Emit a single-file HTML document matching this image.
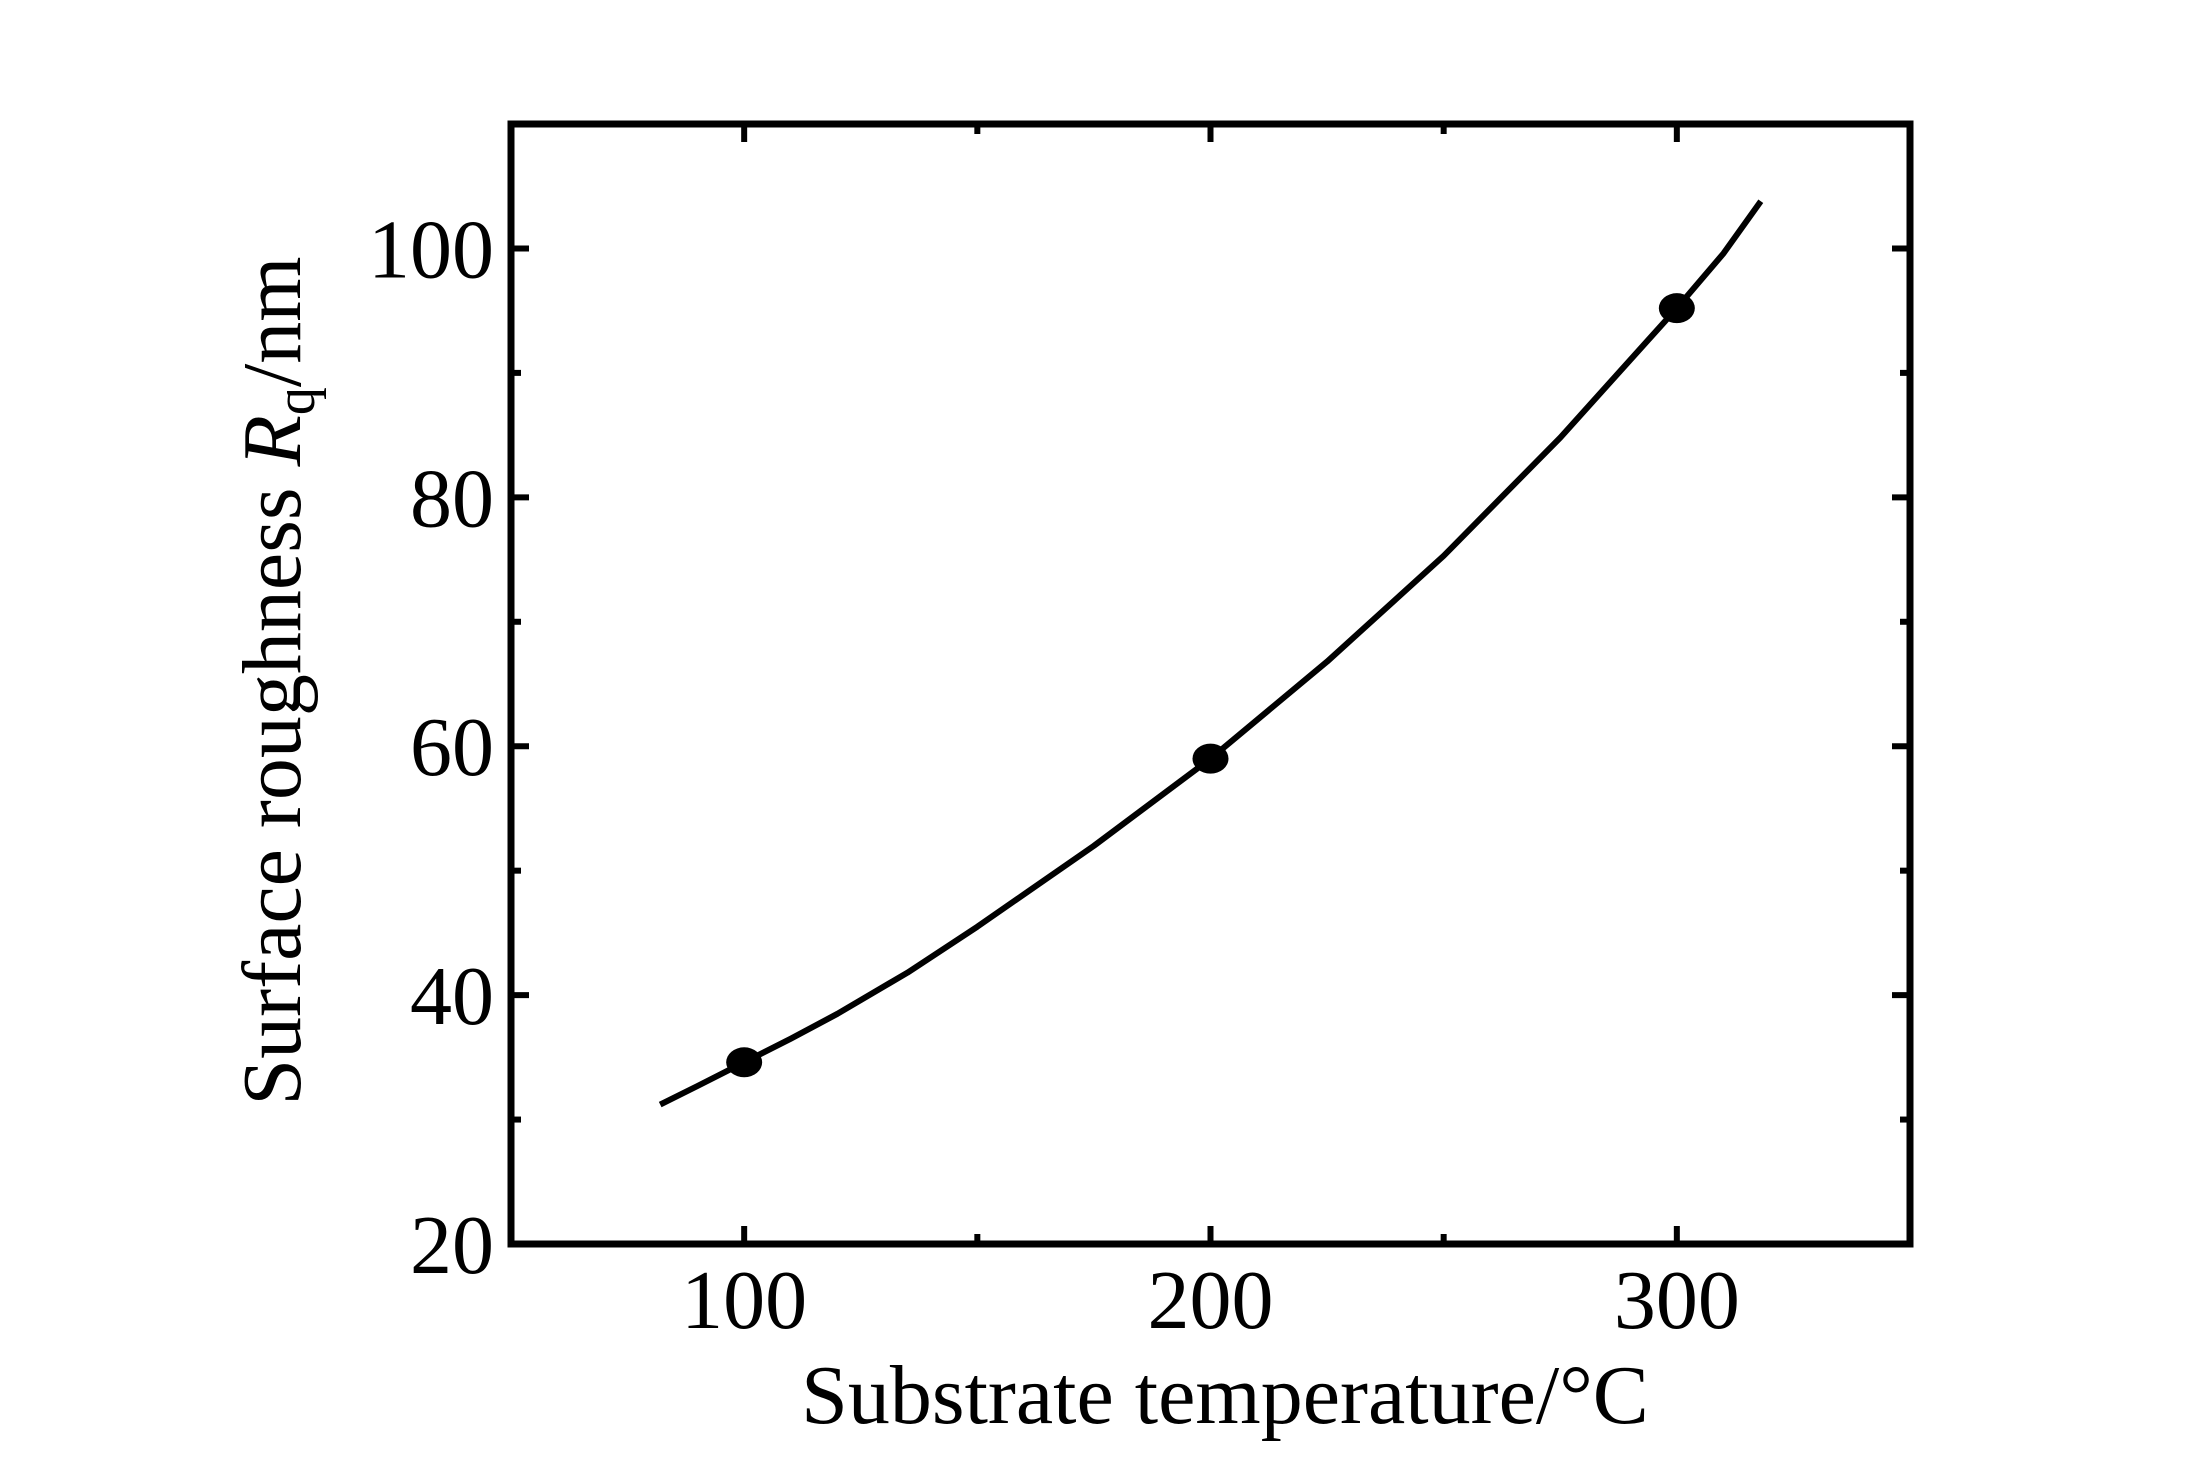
<!DOCTYPE html>
<html><head><meta charset="utf-8"><style>
html,body{margin:0;padding:0;background:#fff;}
svg{display:block;font-family:"Liberation Serif",serif;}
</style></head><body>
<svg id="chart" width="2191" height="1461" viewBox="0 0 2191 1461" xmlns="http://www.w3.org/2000/svg">
<rect width="2191" height="1461" fill="#fff"/>
<g id="ticks"></g>
<g id="labels" font-size="84" fill="#000"></g>
<path id="curve" fill="none" stroke="#000" stroke-width="6" stroke-linejoin="round"/>
<g id="points"></g>
<rect x="511" y="124" width="1399" height="1120" fill="none" stroke="#000" stroke-width="7"/>
<text x="1225" y="1423" font-size="84" text-anchor="middle">Substrate temperature/°C</text>
<text transform="translate(300,681) rotate(-90)" font-size="84" text-anchor="middle">Surface roughness <tspan font-style="italic">R</tspan><tspan font-size="56" dy="14">q</tspan><tspan dy="-14">/nm</tspan></text>
</svg>
<script>
const xTicks = [100, 200, 300];
const yTicks = [20, 40, 60, 80, 100];
const xMinor = [150, 250];
const yMinor = [30, 50, 70, 90];
const pointX = [100, 200, 300];
const pointY = [34.6, 59, 95.2];
const curveX = [82, 90, 100, 110, 120, 135, 150, 175, 200, 225, 250, 275, 300, 310, 318];
const curveY = [31.2, 32.7, 34.6, 36.5, 38.5, 41.8, 45.5, 52.0, 59.0, 66.8, 75.3, 84.8, 95.2, 99.6, 103.8];

const L=511, R=1910, T=124, B=1244;
const X0=50, X1=350, Y0=20, Y1=110;
function sx(v){return L+(v-X0)/(X1-X0)*(R-L);}
function sy(v){return B-(v-Y0)/(Y1-Y0)*(B-T);}
const NS='http://www.w3.org/2000/svg';
const tg=document.getElementById('ticks'), lg=document.getElementById('labels'), pg=document.getElementById('points');
function line(x1,y1,x2,y2,name){
  const l=document.createElementNS(NS,'line');
  l.setAttribute('x1',x1);l.setAttribute('y1',y1);l.setAttribute('x2',x2);l.setAttribute('y2',y2);
  l.setAttribute('stroke','#000');l.setAttribute('stroke-width','6');
  
  
  tg.appendChild(l);
}
xTicks.forEach(v=>{
  const x=sx(v);
  line(x,B,x,B-18,'x-major-tick');
  line(x,T,x,T+18,'x-major-tick-top');
  const t=document.createElementNS(NS,'text');
  t.setAttribute('x',x);t.setAttribute('y',1328);t.setAttribute('text-anchor','middle');
  t.textContent=v;
  
  
  lg.appendChild(t);
});
xMinor.forEach(v=>{const x=sx(v);line(x,B,x,B-10,'x-minor-tick');line(x,T,x,T+10,'x-minor-tick-top');});
yTicks.forEach(v=>{
  const y=sy(v);
  line(L,y,L+18,y,'y-major-tick');
  line(R,y,R-18,y,'y-major-tick-right');
  const t=document.createElementNS(NS,'text');
  t.setAttribute('x',494);t.setAttribute('y',y+29);t.setAttribute('text-anchor','end');
  t.textContent=v;
  
  
  lg.appendChild(t);
});
yMinor.forEach(v=>{const y=sy(v);line(L,y,L+10,y,'y-minor-tick');line(R,y,R-10,y,'y-minor-tick-right');});
document.getElementById('curve').setAttribute('d', curveX.map((v,i)=>(i?'L':'M')+sx(v).toFixed(1)+' '+sy(curveY[i]).toFixed(1)).join(' '));
pointX.forEach((v,i)=>{
  const c=document.createElementNS(NS,'ellipse');
  c.setAttribute('cx',sx(v));c.setAttribute('cy',sy(pointY[i]));c.setAttribute('rx',18);c.setAttribute('ry',15);
  
  
  pg.appendChild(c);
});
</script>
</body></html>
